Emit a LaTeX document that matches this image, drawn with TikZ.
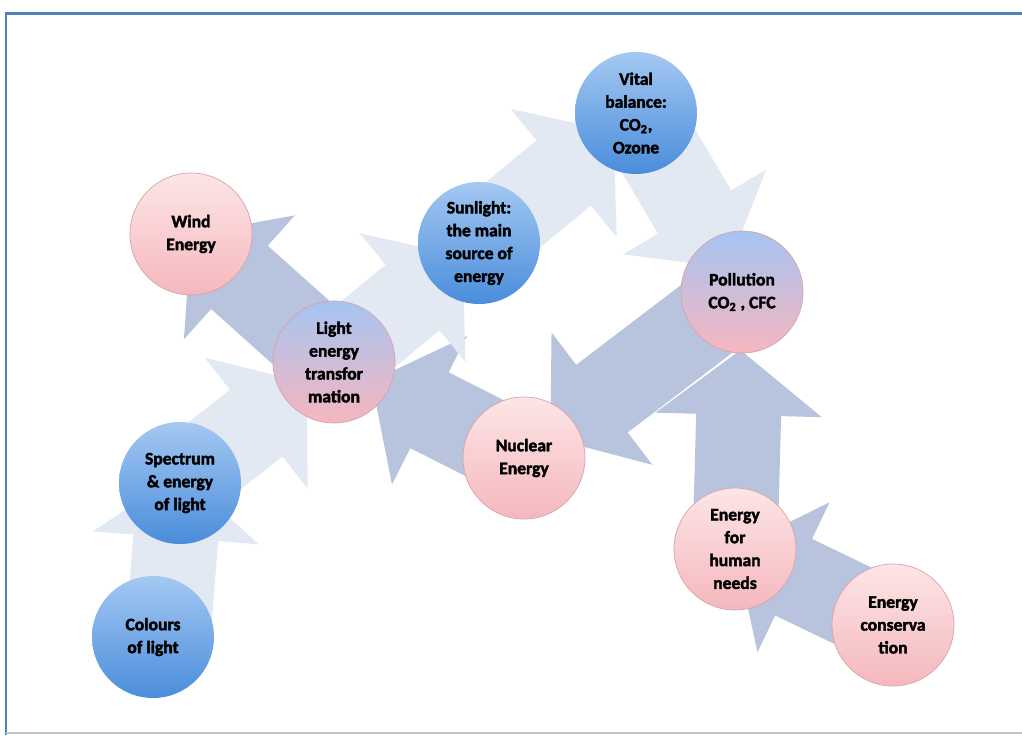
\documentclass[tikz,border=0pt]{standalone}
\usepackage{fontspec}
\setmainfont{Carlito}
\newfontfamily\heavyfont{Carlito}[UprightFont=*-Bold, FakeBold=2.2]
\usetikzlibrary{arrows.meta,backgrounds}
\definecolor{palearrow}{HTML}{E3E9F3}
\definecolor{darkarrow}{HTML}{B8C3DD}
\definecolor{bluetop}{HTML}{A4C8F2}
\definecolor{bluebot}{HTML}{4A8DDB}
\definecolor{pinktop}{HTML}{FDE5E5}
\definecolor{pinkbot}{HTML}{F4B8BE}
\definecolor{pinkrim}{HTML}{D8A2AA}
\definecolor{mixtop}{HTML}{A6C4F1}
\definecolor{mixbot}{HTML}{F6B6C0}
\definecolor{frameblue}{HTML}{4F81BD}
\definecolor{framegrey}{HTML}{C4C4C4}

\begin{document}
\begin{tikzpicture}[x=0.02cm, y=-0.02cm,
	bubble/.style={circle, minimum size=2.44cm, inner sep=0pt, align=center, font=\heavyfont\fontsize{10}{13}\selectfont},
	bluebub/.style={bubble, top color=bluetop, bottom color=bluebot},
	pinkbub/.style={bubble, top color=pinktop, bottom color=pinkbot, draw=pinkrim},
	mixbub/.style={bubble, top color=mixtop, bottom color=mixbot, draw=pinkrim},
	flow/.style={line width=1.7cm, -{Triangle[length=1.3cm, width=3.26cm]}},
	darkflow/.style={flow, draw=darkarrow},
	paleflow/.style={flow, draw=palearrow}]
	\useasboundingbox (0,0) rectangle (1022,735);
	\node[bluebub] (colours) at (153,637) {Colours\\of light};
	\node[bluebub] (spectrum) at (180,483) {Spectrum\\\& energy\\of light};
	\node[pinkbub] (wind) at (191,234) {Wind\\Energy};
	\node[mixbub] (light) at (334,362) {Light\\energy\\transfor\\mation};
	\node[bluebub] (sunlight) at (479,243) {Sunlight:\\the main\\source of\\energy};
	\node[bluebub] (vital) at (636,113) {Vital\\balance:\\CO\textsubscript{2},\\Ozone};
	\node[mixbub] (pollution) at (742,292) {Pollution\\CO\textsubscript{2} , CFC};
	\node[pinkbub] (nuclear) at (524,458) {Nuclear\\Energy};
	\node[pinkbub] (human) at (735,549) {Energy\\for\\human\\needs};
	\node[pinkbub] (conserv) at (893,625) {Energy\\conserva\\tion};
	\begin{scope}[on background layer]
		\draw[darkflow] (light.center) -- (wind.center);
		\draw[darkflow, shorten >=0.84cm] (nuclear.center) -- (light.center);
		\draw[darkflow, shorten >=0.66cm] (pollution.center) -- (nuclear.center);
		\draw[darkflow, shorten >=1.16cm] (human.center) -- (pollution.center);
		\draw[darkflow] (conserv.center) -- (human.center);
		\draw[paleflow, shorten >=-0.2cm] ([xshift=0.3cm]colours.center) -- (spectrum.center);
		\draw[paleflow, shorten >=0.68cm] (spectrum.center) -- (light.center);
		\draw[paleflow, shorten >=0.42cm] (light.center) -- (sunlight.center);
		\draw[paleflow, shorten >=0.58cm] (sunlight.center) -- (vital.center);
		\draw[paleflow, shorten >=0.56cm] (vital.center) -- (pollution.center);
	\end{scope}
	\draw[frameblue, line width=0.06cm] (6,735) -- (6,13) -- (1022,13);
	\draw[framegrey, line width=0.04cm] (6,733) -- (1022,733);
\end{tikzpicture}
\end{document}
